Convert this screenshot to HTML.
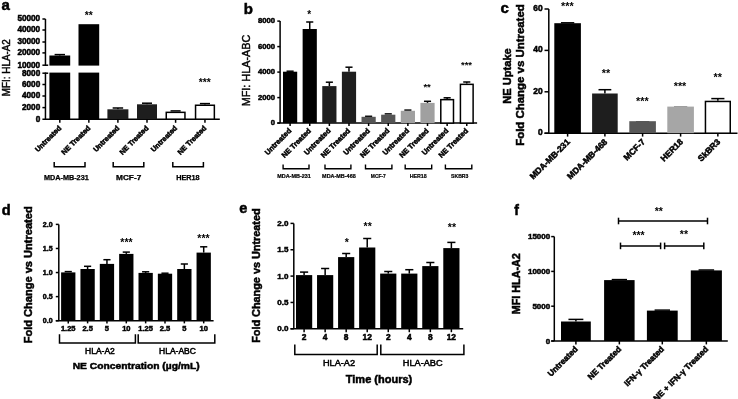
<!DOCTYPE html>
<html><head><meta charset="utf-8"><style>
html,body{margin:0;padding:0;background:#fff;}
body{width:738px;height:399px;overflow:hidden;}
svg{display:block;font-family:"Liberation Sans", sans-serif;will-change:transform;-webkit-font-smoothing:antialiased;}
text{stroke:#000;stroke-width:0.5px;paint-order:stroke;}
</style></head><body>
<svg width="738" height="399" viewBox="0 0 738 399" font-family='"Liberation Sans", sans-serif'>
<rect x="0" y="0" width="738" height="399" fill="#fff"/>
<text x="1.60" y="9.80" font-size="15" text-anchor="start" font-weight="bold">a</text>
<text x="9.80" y="67.65" font-size="10.8" text-anchor="middle" font-weight="normal" textLength="57" lengthAdjust="spacingAndGlyphs" transform="rotate(-90 9.80 67.65)" style="stroke-width:0.45px">MFI: HLA-A2</text>
<line x1="45.45" y1="19.00" x2="45.45" y2="65.90" stroke="#000" stroke-width="1.5"/>
<line x1="42.40" y1="65.20" x2="48.20" y2="65.20" stroke="#000" stroke-width="1.5"/>
<line x1="45.45" y1="72.50" x2="45.45" y2="119.20" stroke="#000" stroke-width="1.5"/>
<line x1="42.40" y1="73.20" x2="48.20" y2="73.20" stroke="#000" stroke-width="1.5"/>
<line x1="42.40" y1="19.00" x2="45.45" y2="19.00" stroke="#000" stroke-width="1.5"/>
<line x1="42.40" y1="30.00" x2="45.45" y2="30.00" stroke="#000" stroke-width="1.5"/>
<line x1="42.40" y1="42.00" x2="45.45" y2="42.00" stroke="#000" stroke-width="1.5"/>
<line x1="42.40" y1="52.90" x2="45.45" y2="52.90" stroke="#000" stroke-width="1.5"/>
<line x1="42.40" y1="84.50" x2="45.45" y2="84.50" stroke="#000" stroke-width="1.5"/>
<line x1="42.40" y1="96.00" x2="45.45" y2="96.00" stroke="#000" stroke-width="1.5"/>
<line x1="42.40" y1="107.60" x2="45.45" y2="107.60" stroke="#000" stroke-width="1.5"/>
<text x="40.20" y="21.30" font-size="8.2" text-anchor="end" font-weight="bold">50000</text>
<text x="40.20" y="32.30" font-size="8.2" text-anchor="end" font-weight="bold">40000</text>
<text x="40.20" y="44.30" font-size="8.2" text-anchor="end" font-weight="bold">30000</text>
<text x="40.20" y="55.20" font-size="8.2" text-anchor="end" font-weight="bold">20000</text>
<text x="40.20" y="67.50" font-size="8.2" text-anchor="end" font-weight="bold">10000</text>
<text x="40.20" y="75.50" font-size="8.2" text-anchor="end" font-weight="bold">8000</text>
<text x="40.20" y="86.80" font-size="8.2" text-anchor="end" font-weight="bold">6000</text>
<text x="40.20" y="98.30" font-size="8.2" text-anchor="end" font-weight="bold">4000</text>
<text x="40.20" y="109.90" font-size="8.2" text-anchor="end" font-weight="bold">2000</text>
<text x="40.20" y="121.50" font-size="8.2" text-anchor="end" font-weight="bold">0</text>
<line x1="42.40" y1="119.20" x2="219.80" y2="119.20" stroke="#000" stroke-width="1.5"/>
<line x1="59.80" y1="55.50" x2="59.80" y2="54.60" stroke="#000" stroke-width="1.5"/>
<line x1="54.60" y1="54.60" x2="65.00" y2="54.60" stroke="#000" stroke-width="1.5"/>
<rect x="49.40" y="55.50" width="20.80" height="10.10" fill="#000"/>
<rect x="49.40" y="72.60" width="20.80" height="46.60" fill="#000"/>
<line x1="59.80" y1="119.20" x2="59.80" y2="122.80" stroke="#000" stroke-width="1.5"/>
<text x="61.80" y="128.60" font-size="7.2" text-anchor="end" font-weight="bold" transform="rotate(-45 61.80 128.60)">Untreated</text>
<rect x="78.50" y="24.20" width="20.70" height="41.40" fill="#000"/>
<rect x="78.50" y="72.60" width="20.70" height="46.60" fill="#000"/>
<line x1="88.85" y1="119.20" x2="88.85" y2="122.80" stroke="#000" stroke-width="1.5"/>
<text x="90.85" y="128.60" font-size="7.2" text-anchor="end" font-weight="bold" transform="rotate(-45 90.85 128.60)">NE Treated</text>
<line x1="117.90" y1="109.30" x2="117.90" y2="108.00" stroke="#000" stroke-width="1.5"/>
<line x1="112.65" y1="108.00" x2="123.15" y2="108.00" stroke="#000" stroke-width="1.5"/>
<rect x="107.40" y="109.30" width="21.00" height="9.90" fill="#1e1e1e"/>
<line x1="117.90" y1="119.20" x2="117.90" y2="122.80" stroke="#000" stroke-width="1.5"/>
<text x="119.90" y="128.60" font-size="7.2" text-anchor="end" font-weight="bold" transform="rotate(-45 119.90 128.60)">Untreated</text>
<line x1="147.00" y1="104.30" x2="147.00" y2="103.20" stroke="#000" stroke-width="1.5"/>
<line x1="142.00" y1="103.20" x2="152.00" y2="103.20" stroke="#000" stroke-width="1.5"/>
<rect x="137.00" y="104.30" width="20.00" height="14.90" fill="#1e1e1e"/>
<line x1="147.00" y1="119.20" x2="147.00" y2="122.80" stroke="#000" stroke-width="1.5"/>
<text x="149.00" y="128.60" font-size="7.2" text-anchor="end" font-weight="bold" transform="rotate(-45 149.00 128.60)">NE Treated</text>
<line x1="170.55" y1="110.90" x2="180.65" y2="110.90" stroke="#000" stroke-width="1.5"/>
<rect x="166.25" y="112.35" width="18.70" height="6.85" fill="#fff" stroke="#000" stroke-width="1.5"/>
<line x1="175.60" y1="119.20" x2="175.60" y2="122.80" stroke="#000" stroke-width="1.5"/>
<text x="177.60" y="128.60" font-size="7.2" text-anchor="end" font-weight="bold" transform="rotate(-45 177.60 128.60)">Untreated</text>
<line x1="204.95" y1="104.50" x2="204.95" y2="103.60" stroke="#000" stroke-width="1.5"/>
<line x1="199.88" y1="103.60" x2="210.02" y2="103.60" stroke="#000" stroke-width="1.5"/>
<rect x="195.55" y="105.25" width="18.80" height="13.95" fill="#fff" stroke="#000" stroke-width="1.5"/>
<line x1="204.95" y1="119.20" x2="204.95" y2="122.80" stroke="#000" stroke-width="1.5"/>
<text x="206.95" y="128.60" font-size="7.2" text-anchor="end" font-weight="bold" transform="rotate(-45 206.95 128.60)">NE Treated</text>
<text x="88.65" y="18.97" font-size="10.3" text-anchor="middle" font-weight="bold" style="stroke:none">**</text>
<text x="204.70" y="86.07" font-size="10.3" text-anchor="middle" font-weight="bold" style="stroke:none">***</text>
<polyline points="54.20,161.90 54.20,166.80 85.00,166.80 85.00,161.90" fill="none" stroke="#000" stroke-width="1.5" stroke-linejoin="miter"/>
<text x="66.35" y="179.90" font-size="6.3" text-anchor="middle" font-weight="bold" textLength="44.8" lengthAdjust="spacingAndGlyphs" style="stroke-width:0.25px">MDA-MB-231</text>
<polyline points="113.20,161.90 113.20,166.80 143.80,166.80 143.80,161.90" fill="none" stroke="#000" stroke-width="1.5" stroke-linejoin="miter"/>
<text x="128.65" y="179.90" font-size="6.3" text-anchor="middle" font-weight="bold" textLength="25.2" lengthAdjust="spacingAndGlyphs" style="stroke-width:0.25px">MCF-7</text>
<polyline points="172.80,161.90 172.80,166.80 203.40,166.80 203.40,161.90" fill="none" stroke="#000" stroke-width="1.5" stroke-linejoin="miter"/>
<text x="187.85" y="179.90" font-size="6.3" text-anchor="middle" font-weight="bold" textLength="23.4" lengthAdjust="spacingAndGlyphs" style="stroke-width:0.25px">HER18</text>
<text x="243.80" y="13.70" font-size="15" text-anchor="start" font-weight="bold">b</text>
<text x="250.00" y="70.50" font-size="11.4" text-anchor="middle" font-weight="normal" textLength="71.5" lengthAdjust="spacingAndGlyphs" transform="rotate(-90 250.00 70.50)" style="stroke-width:0.45px">MFI: HLA-ABC</text>
<line x1="280.10" y1="21.10" x2="280.10" y2="123.10" stroke="#000" stroke-width="1.5"/>
<line x1="277.30" y1="123.10" x2="280.10" y2="123.10" stroke="#000" stroke-width="1.5"/>
<text x="275.10" y="125.30" font-size="7.7" text-anchor="end" font-weight="bold">0</text>
<line x1="277.30" y1="97.60" x2="280.10" y2="97.60" stroke="#000" stroke-width="1.5"/>
<text x="275.10" y="99.80" font-size="7.7" text-anchor="end" font-weight="bold">2000</text>
<line x1="277.30" y1="72.10" x2="280.10" y2="72.10" stroke="#000" stroke-width="1.5"/>
<text x="275.10" y="74.30" font-size="7.7" text-anchor="end" font-weight="bold">4000</text>
<line x1="277.30" y1="46.60" x2="280.10" y2="46.60" stroke="#000" stroke-width="1.5"/>
<text x="275.10" y="48.80" font-size="7.7" text-anchor="end" font-weight="bold">6000</text>
<line x1="277.30" y1="21.10" x2="280.10" y2="21.10" stroke="#000" stroke-width="1.5"/>
<text x="275.10" y="23.30" font-size="7.7" text-anchor="end" font-weight="bold">8000</text>
<line x1="277.30" y1="123.10" x2="477.10" y2="123.10" stroke="#000" stroke-width="1.5"/>
<line x1="286.55" y1="71.20" x2="293.65" y2="71.20" stroke="#000" stroke-width="1.5"/>
<rect x="283.00" y="71.70" width="14.20" height="51.40" fill="#000"/>
<line x1="290.10" y1="123.10" x2="290.10" y2="126.00" stroke="#000" stroke-width="1.5"/>
<text x="291.90" y="131.20" font-size="7.35" text-anchor="end" font-weight="bold" transform="rotate(-45 291.90 131.20)">Untreated</text>
<line x1="309.73" y1="29.00" x2="309.73" y2="22.00" stroke="#000" stroke-width="1.5"/>
<line x1="306.18" y1="22.00" x2="313.28" y2="22.00" stroke="#000" stroke-width="1.5"/>
<rect x="302.63" y="29.00" width="14.20" height="94.10" fill="#000"/>
<line x1="309.73" y1="123.10" x2="309.73" y2="126.00" stroke="#000" stroke-width="1.5"/>
<text x="311.53" y="131.20" font-size="7.35" text-anchor="end" font-weight="bold" transform="rotate(-45 311.53 131.20)">NE Treated</text>
<line x1="329.36" y1="86.10" x2="329.36" y2="82.20" stroke="#000" stroke-width="1.5"/>
<line x1="325.81" y1="82.20" x2="332.91" y2="82.20" stroke="#000" stroke-width="1.5"/>
<rect x="322.26" y="86.10" width="14.20" height="37.00" fill="#1e1e1e"/>
<line x1="329.36" y1="123.10" x2="329.36" y2="126.00" stroke="#000" stroke-width="1.5"/>
<text x="331.16" y="131.20" font-size="7.35" text-anchor="end" font-weight="bold" transform="rotate(-45 331.16 131.20)">Untreated</text>
<line x1="348.99" y1="71.70" x2="348.99" y2="67.20" stroke="#000" stroke-width="1.5"/>
<line x1="345.44" y1="67.20" x2="352.54" y2="67.20" stroke="#000" stroke-width="1.5"/>
<rect x="341.89" y="71.70" width="14.20" height="51.40" fill="#1e1e1e"/>
<line x1="348.99" y1="123.10" x2="348.99" y2="126.00" stroke="#000" stroke-width="1.5"/>
<text x="350.79" y="131.20" font-size="7.35" text-anchor="end" font-weight="bold" transform="rotate(-45 350.79 131.20)">NE Treated</text>
<line x1="365.07" y1="116.30" x2="372.17" y2="116.30" stroke="#000" stroke-width="1.5"/>
<rect x="361.52" y="116.80" width="14.20" height="6.30" fill="#555"/>
<line x1="368.62" y1="123.10" x2="368.62" y2="126.00" stroke="#000" stroke-width="1.5"/>
<text x="370.42" y="131.20" font-size="7.35" text-anchor="end" font-weight="bold" transform="rotate(-45 370.42 131.20)">Untreated</text>
<line x1="384.70" y1="113.90" x2="391.80" y2="113.90" stroke="#000" stroke-width="1.5"/>
<rect x="381.15" y="114.70" width="14.20" height="8.40" fill="#555"/>
<line x1="388.25" y1="123.10" x2="388.25" y2="126.00" stroke="#000" stroke-width="1.5"/>
<text x="390.05" y="131.20" font-size="7.35" text-anchor="end" font-weight="bold" transform="rotate(-45 390.05 131.20)">NE Treated</text>
<line x1="404.33" y1="110.10" x2="411.43" y2="110.10" stroke="#000" stroke-width="1.5"/>
<rect x="400.78" y="110.80" width="14.20" height="12.30" fill="#a0a0a0"/>
<line x1="407.88" y1="123.10" x2="407.88" y2="126.00" stroke="#000" stroke-width="1.5"/>
<text x="409.68" y="131.20" font-size="7.35" text-anchor="end" font-weight="bold" transform="rotate(-45 409.68 131.20)">Untreated</text>
<line x1="427.51" y1="102.90" x2="427.51" y2="101.30" stroke="#000" stroke-width="1.5"/>
<line x1="423.96" y1="101.30" x2="431.06" y2="101.30" stroke="#000" stroke-width="1.5"/>
<rect x="420.41" y="102.90" width="14.20" height="20.20" fill="#a0a0a0"/>
<line x1="427.51" y1="123.10" x2="427.51" y2="126.00" stroke="#000" stroke-width="1.5"/>
<text x="429.31" y="131.20" font-size="7.35" text-anchor="end" font-weight="bold" transform="rotate(-45 429.31 131.20)">NE Treated</text>
<line x1="447.14" y1="98.90" x2="447.14" y2="97.80" stroke="#000" stroke-width="1.5"/>
<line x1="443.59" y1="97.80" x2="450.69" y2="97.80" stroke="#000" stroke-width="1.5"/>
<rect x="440.79" y="99.65" width="12.70" height="23.45" fill="#fff" stroke="#000" stroke-width="1.5"/>
<line x1="447.14" y1="123.10" x2="447.14" y2="126.00" stroke="#000" stroke-width="1.5"/>
<text x="448.94" y="131.20" font-size="7.35" text-anchor="end" font-weight="bold" transform="rotate(-45 448.94 131.20)">Untreated</text>
<line x1="466.77" y1="83.60" x2="466.77" y2="82.00" stroke="#000" stroke-width="1.5"/>
<line x1="463.22" y1="82.00" x2="470.32" y2="82.00" stroke="#000" stroke-width="1.5"/>
<rect x="460.42" y="84.35" width="12.70" height="38.75" fill="#fff" stroke="#000" stroke-width="1.5"/>
<line x1="466.77" y1="123.10" x2="466.77" y2="126.00" stroke="#000" stroke-width="1.5"/>
<text x="468.57" y="131.20" font-size="7.35" text-anchor="end" font-weight="bold" transform="rotate(-45 468.57 131.20)">NE Treated</text>
<text x="309.20" y="17.92" font-size="10" text-anchor="middle" font-weight="bold" style="stroke:none">*</text>
<text x="427.10" y="89.97" font-size="9.5" text-anchor="middle" font-weight="bold" style="stroke:none">**</text>
<text x="466.50" y="68.17" font-size="9.5" text-anchor="middle" font-weight="bold" style="stroke:none">***</text>
<polyline points="283.10,164.40 283.10,168.70 309.00,168.70 309.00,164.40" fill="none" stroke="#000" stroke-width="1.4" stroke-linejoin="miter"/>
<text x="294.00" y="178.00" font-size="5.3" text-anchor="middle" font-weight="bold" textLength="33.6" lengthAdjust="spacingAndGlyphs" style="stroke-width:0.2px">MDA-MB-231</text>
<polyline points="325.00,164.40 325.00,168.70 350.90,168.70 350.90,164.40" fill="none" stroke="#000" stroke-width="1.4" stroke-linejoin="miter"/>
<text x="338.90" y="178.00" font-size="5.3" text-anchor="middle" font-weight="bold" textLength="33.6" lengthAdjust="spacingAndGlyphs" style="stroke-width:0.2px">MDA-MB-468</text>
<polyline points="365.50,164.40 365.50,168.70 391.90,168.70 391.90,164.40" fill="none" stroke="#000" stroke-width="1.4" stroke-linejoin="miter"/>
<text x="378.30" y="178.00" font-size="5.3" text-anchor="middle" font-weight="bold" textLength="15.0" lengthAdjust="spacingAndGlyphs" style="stroke-width:0.2px">MCF-7</text>
<polyline points="405.20,164.40 405.20,168.70 431.70,168.70 431.70,164.40" fill="none" stroke="#000" stroke-width="1.4" stroke-linejoin="miter"/>
<text x="418.20" y="178.00" font-size="5.3" text-anchor="middle" font-weight="bold" textLength="17.1" lengthAdjust="spacingAndGlyphs" style="stroke-width:0.2px">HER18</text>
<polyline points="445.40,164.40 445.40,168.70 471.80,168.70 471.80,164.40" fill="none" stroke="#000" stroke-width="1.4" stroke-linejoin="miter"/>
<text x="459.70" y="178.00" font-size="5.3" text-anchor="middle" font-weight="bold" textLength="17.4" lengthAdjust="spacingAndGlyphs" style="stroke-width:0.2px">SKBR3</text>
<text x="500.60" y="12.80" font-size="15" text-anchor="start" font-weight="bold">c</text>
<text x="511.40" y="76.00" font-size="10" text-anchor="middle" font-weight="bold" textLength="55.5" lengthAdjust="spacingAndGlyphs" transform="rotate(-90 511.40 76.00)">NE Uptake</text>
<text x="524.20" y="75.00" font-size="11" text-anchor="middle" font-weight="bold" textLength="141.5" lengthAdjust="spacingAndGlyphs" transform="rotate(-90 524.20 75.00)">Fold Change vs Untreated</text>
<line x1="548.80" y1="9.00" x2="548.80" y2="133.20" stroke="#000" stroke-width="1.5"/>
<line x1="544.50" y1="133.20" x2="548.80" y2="133.20" stroke="#000" stroke-width="1.5"/>
<text x="542.60" y="135.20" font-size="8.4" text-anchor="end" font-weight="bold">0</text>
<line x1="544.50" y1="91.80" x2="548.80" y2="91.80" stroke="#000" stroke-width="1.5"/>
<text x="542.60" y="93.80" font-size="8.4" text-anchor="end" font-weight="bold">20</text>
<line x1="544.50" y1="50.40" x2="548.80" y2="50.40" stroke="#000" stroke-width="1.5"/>
<text x="542.60" y="52.40" font-size="8.4" text-anchor="end" font-weight="bold">40</text>
<line x1="544.50" y1="9.00" x2="548.80" y2="9.00" stroke="#000" stroke-width="1.5"/>
<text x="542.60" y="11.00" font-size="8.4" text-anchor="end" font-weight="bold">60</text>
<line x1="544.50" y1="133.20" x2="737.50" y2="133.20" stroke="#000" stroke-width="1.5"/>
<line x1="560.95" y1="22.80" x2="574.25" y2="22.80" stroke="#000" stroke-width="1.5"/>
<rect x="554.30" y="23.20" width="26.60" height="110.00" fill="#000"/>
<line x1="567.60" y1="133.20" x2="567.60" y2="136.60" stroke="#000" stroke-width="1.5"/>
<text x="570.60" y="142.50" font-size="8.55" text-anchor="end" font-weight="bold" transform="rotate(-45 570.60 142.50)">MDA-MB-231</text>
<line x1="604.90" y1="93.50" x2="604.90" y2="89.70" stroke="#000" stroke-width="1.5"/>
<line x1="598.50" y1="89.70" x2="611.30" y2="89.70" stroke="#000" stroke-width="1.5"/>
<rect x="592.10" y="93.50" width="25.60" height="39.70" fill="#1e1e1e"/>
<line x1="604.90" y1="133.20" x2="604.90" y2="136.60" stroke="#000" stroke-width="1.5"/>
<text x="607.90" y="142.50" font-size="8.55" text-anchor="end" font-weight="bold" transform="rotate(-45 607.90 142.50)">MDA-MB-468</text>
<line x1="635.95" y1="122.10" x2="649.25" y2="122.10" stroke="#000" stroke-width="1.5"/>
<rect x="629.30" y="121.20" width="26.60" height="12.00" fill="#575757"/>
<line x1="642.60" y1="133.20" x2="642.60" y2="136.60" stroke="#000" stroke-width="1.5"/>
<text x="645.60" y="142.50" font-size="8.55" text-anchor="end" font-weight="bold" transform="rotate(-45 645.60 142.50)">MCF-7</text>
<line x1="673.95" y1="107.35" x2="687.25" y2="107.35" stroke="#000" stroke-width="1.5"/>
<rect x="667.30" y="106.60" width="26.60" height="26.60" fill="#a6a6a6"/>
<line x1="680.60" y1="133.20" x2="680.60" y2="136.60" stroke="#000" stroke-width="1.5"/>
<text x="683.60" y="142.50" font-size="8.55" text-anchor="end" font-weight="bold" transform="rotate(-45 683.60 142.50)">HER18</text>
<line x1="717.85" y1="100.70" x2="717.85" y2="98.60" stroke="#000" stroke-width="1.5"/>
<line x1="711.28" y1="98.60" x2="724.42" y2="98.60" stroke="#000" stroke-width="1.5"/>
<rect x="705.45" y="101.45" width="24.80" height="31.75" fill="#fff" stroke="#000" stroke-width="1.5"/>
<line x1="717.85" y1="133.20" x2="717.85" y2="136.60" stroke="#000" stroke-width="1.5"/>
<text x="720.85" y="142.50" font-size="8.55" text-anchor="end" font-weight="bold" transform="rotate(-45 720.85 142.50)">SkBR3</text>
<text x="567.40" y="10.47" font-size="10.8" text-anchor="middle" font-weight="bold" style="stroke:none">***</text>
<text x="606.00" y="77.12" font-size="10.8" text-anchor="middle" font-weight="bold" style="stroke:none">**</text>
<text x="642.30" y="105.42" font-size="10.8" text-anchor="middle" font-weight="bold" style="stroke:none">***</text>
<text x="680.00" y="90.12" font-size="10.8" text-anchor="middle" font-weight="bold" style="stroke:none">***</text>
<text x="717.70" y="81.12" font-size="10.8" text-anchor="middle" font-weight="bold" style="stroke:none">**</text>
<text x="1.80" y="214.90" font-size="14.6" text-anchor="start" font-weight="bold">d</text>
<text x="32.20" y="274.80" font-size="10.3" text-anchor="middle" font-weight="bold" textLength="137" lengthAdjust="spacingAndGlyphs" transform="rotate(-90 32.20 274.80)">Fold Change vs Untreated</text>
<line x1="58.80" y1="224.40" x2="58.80" y2="320.70" stroke="#000" stroke-width="1.5"/>
<line x1="55.80" y1="320.70" x2="58.80" y2="320.70" stroke="#000" stroke-width="1.5"/>
<text x="52.60" y="323.10" font-size="7.0" text-anchor="end" font-weight="bold">0.0</text>
<line x1="55.80" y1="296.62" x2="58.80" y2="296.62" stroke="#000" stroke-width="1.5"/>
<text x="52.60" y="299.02" font-size="7.0" text-anchor="end" font-weight="bold">0.5</text>
<line x1="55.80" y1="272.55" x2="58.80" y2="272.55" stroke="#000" stroke-width="1.5"/>
<text x="52.60" y="274.95" font-size="7.0" text-anchor="end" font-weight="bold">1.0</text>
<line x1="55.80" y1="248.47" x2="58.80" y2="248.47" stroke="#000" stroke-width="1.5"/>
<text x="52.60" y="250.88" font-size="7.0" text-anchor="end" font-weight="bold">1.5</text>
<line x1="55.80" y1="224.40" x2="58.80" y2="224.40" stroke="#000" stroke-width="1.5"/>
<text x="52.60" y="226.80" font-size="7.0" text-anchor="end" font-weight="bold">2.0</text>
<line x1="55.80" y1="320.70" x2="213.60" y2="320.70" stroke="#000" stroke-width="1.5"/>
<line x1="64.67" y1="271.60" x2="71.83" y2="271.60" stroke="#000" stroke-width="1.5"/>
<rect x="61.10" y="272.40" width="14.30" height="48.30" fill="#000"/>
<line x1="68.25" y1="320.70" x2="68.25" y2="323.40" stroke="#000" stroke-width="1.5"/>
<text x="68.25" y="330.70" font-size="7.5" text-anchor="middle" font-weight="bold">1.25</text>
<line x1="87.60" y1="269.00" x2="87.60" y2="266.30" stroke="#000" stroke-width="1.5"/>
<line x1="84.02" y1="266.30" x2="91.17" y2="266.30" stroke="#000" stroke-width="1.5"/>
<rect x="80.45" y="269.00" width="14.30" height="51.70" fill="#000"/>
<line x1="87.60" y1="320.70" x2="87.60" y2="323.40" stroke="#000" stroke-width="1.5"/>
<text x="87.60" y="330.70" font-size="7.5" text-anchor="middle" font-weight="bold">2.5</text>
<line x1="106.95" y1="263.90" x2="106.95" y2="259.70" stroke="#000" stroke-width="1.5"/>
<line x1="103.38" y1="259.70" x2="110.53" y2="259.70" stroke="#000" stroke-width="1.5"/>
<rect x="99.80" y="263.90" width="14.30" height="56.80" fill="#000"/>
<line x1="106.95" y1="320.70" x2="106.95" y2="323.40" stroke="#000" stroke-width="1.5"/>
<text x="106.95" y="330.70" font-size="7.5" text-anchor="middle" font-weight="bold">5</text>
<line x1="126.30" y1="253.90" x2="126.30" y2="252.10" stroke="#000" stroke-width="1.5"/>
<line x1="122.73" y1="252.10" x2="129.88" y2="252.10" stroke="#000" stroke-width="1.5"/>
<rect x="119.15" y="253.90" width="14.30" height="66.80" fill="#000"/>
<line x1="126.30" y1="320.70" x2="126.30" y2="323.40" stroke="#000" stroke-width="1.5"/>
<text x="126.30" y="330.70" font-size="7.5" text-anchor="middle" font-weight="bold">10</text>
<line x1="145.65" y1="272.90" x2="145.65" y2="271.80" stroke="#000" stroke-width="1.5"/>
<line x1="142.07" y1="271.80" x2="149.23" y2="271.80" stroke="#000" stroke-width="1.5"/>
<rect x="138.50" y="272.90" width="14.30" height="47.80" fill="#000"/>
<line x1="145.65" y1="320.70" x2="145.65" y2="323.40" stroke="#000" stroke-width="1.5"/>
<text x="145.65" y="330.70" font-size="7.5" text-anchor="middle" font-weight="bold">1.25</text>
<line x1="161.43" y1="273.20" x2="168.57" y2="273.20" stroke="#000" stroke-width="1.5"/>
<rect x="157.85" y="273.70" width="14.30" height="47.00" fill="#000"/>
<line x1="165.00" y1="320.70" x2="165.00" y2="323.40" stroke="#000" stroke-width="1.5"/>
<text x="165.00" y="330.70" font-size="7.5" text-anchor="middle" font-weight="bold">2.5</text>
<line x1="184.35" y1="269.00" x2="184.35" y2="264.00" stroke="#000" stroke-width="1.5"/>
<line x1="180.78" y1="264.00" x2="187.93" y2="264.00" stroke="#000" stroke-width="1.5"/>
<rect x="177.20" y="269.00" width="14.30" height="51.70" fill="#000"/>
<line x1="184.35" y1="320.70" x2="184.35" y2="323.40" stroke="#000" stroke-width="1.5"/>
<text x="184.35" y="330.70" font-size="7.5" text-anchor="middle" font-weight="bold">5</text>
<line x1="203.70" y1="252.60" x2="203.70" y2="246.80" stroke="#000" stroke-width="1.5"/>
<line x1="200.12" y1="246.80" x2="207.28" y2="246.80" stroke="#000" stroke-width="1.5"/>
<rect x="196.55" y="252.60" width="14.30" height="68.10" fill="#000"/>
<line x1="203.70" y1="320.70" x2="203.70" y2="323.40" stroke="#000" stroke-width="1.5"/>
<text x="203.70" y="330.70" font-size="7.5" text-anchor="middle" font-weight="bold">10</text>
<text x="126.50" y="245.67" font-size="10.5" text-anchor="middle" font-weight="bold" style="stroke:none">***</text>
<text x="203.50" y="241.67" font-size="10.5" text-anchor="middle" font-weight="bold" style="stroke:none">***</text>
<polyline points="59.50,334.20 59.50,343.00 135.40,343.00 135.40,334.20" fill="none" stroke="#000" stroke-width="1.5" stroke-linejoin="miter"/>
<text x="99.90" y="353.50" font-size="8.5" text-anchor="middle" font-weight="normal">HLA-A2</text>
<polyline points="138.20,334.20 138.20,343.00 214.80,343.00 214.80,334.20" fill="none" stroke="#000" stroke-width="1.5" stroke-linejoin="miter"/>
<text x="177.45" y="353.50" font-size="8.5" text-anchor="middle" font-weight="normal">HLA-ABC</text>
<text x="136.20" y="369.00" font-size="9.8" text-anchor="middle" font-weight="bold" textLength="127" lengthAdjust="spacingAndGlyphs">NE Concentration (µg/mL)</text>
<text x="239.30" y="212.90" font-size="14.6" text-anchor="start" font-weight="bold">e</text>
<text x="259.90" y="275.60" font-size="10.5" text-anchor="middle" font-weight="bold" textLength="134.5" lengthAdjust="spacingAndGlyphs" transform="rotate(-90 259.90 275.60)">Fold Change vs Untreated</text>
<line x1="293.80" y1="223.40" x2="293.80" y2="328.80" stroke="#000" stroke-width="1.5"/>
<line x1="290.50" y1="328.80" x2="293.80" y2="328.80" stroke="#000" stroke-width="1.5"/>
<text x="288.40" y="331.40" font-size="8.0" text-anchor="end" font-weight="bold">0.0</text>
<line x1="290.50" y1="302.45" x2="293.80" y2="302.45" stroke="#000" stroke-width="1.5"/>
<text x="288.40" y="305.05" font-size="8.0" text-anchor="end" font-weight="bold">0.5</text>
<line x1="290.50" y1="276.10" x2="293.80" y2="276.10" stroke="#000" stroke-width="1.5"/>
<text x="288.40" y="278.70" font-size="8.0" text-anchor="end" font-weight="bold">1.0</text>
<line x1="290.50" y1="249.75" x2="293.80" y2="249.75" stroke="#000" stroke-width="1.5"/>
<text x="288.40" y="252.35" font-size="8.0" text-anchor="end" font-weight="bold">1.5</text>
<line x1="290.50" y1="223.40" x2="293.80" y2="223.40" stroke="#000" stroke-width="1.5"/>
<text x="288.40" y="226.00" font-size="8.0" text-anchor="end" font-weight="bold">2.0</text>
<line x1="290.50" y1="328.80" x2="463.20" y2="328.80" stroke="#000" stroke-width="1.5"/>
<line x1="304.10" y1="275.10" x2="304.10" y2="272.10" stroke="#000" stroke-width="1.5"/>
<line x1="300.05" y1="272.10" x2="308.15" y2="272.10" stroke="#000" stroke-width="1.5"/>
<rect x="296.00" y="275.10" width="16.20" height="53.70" fill="#000"/>
<line x1="304.10" y1="328.80" x2="304.10" y2="332.20" stroke="#000" stroke-width="1.5"/>
<text x="304.10" y="339.90" font-size="8.4" text-anchor="middle" font-weight="bold">2</text>
<line x1="325.14" y1="275.10" x2="325.14" y2="268.50" stroke="#000" stroke-width="1.5"/>
<line x1="321.09" y1="268.50" x2="329.19" y2="268.50" stroke="#000" stroke-width="1.5"/>
<rect x="317.04" y="275.10" width="16.20" height="53.70" fill="#000"/>
<line x1="325.14" y1="328.80" x2="325.14" y2="332.20" stroke="#000" stroke-width="1.5"/>
<text x="325.14" y="339.90" font-size="8.4" text-anchor="middle" font-weight="bold">4</text>
<line x1="346.18" y1="257.10" x2="346.18" y2="253.50" stroke="#000" stroke-width="1.5"/>
<line x1="342.13" y1="253.50" x2="350.23" y2="253.50" stroke="#000" stroke-width="1.5"/>
<rect x="338.08" y="257.10" width="16.20" height="71.70" fill="#000"/>
<line x1="346.18" y1="328.80" x2="346.18" y2="332.20" stroke="#000" stroke-width="1.5"/>
<text x="346.18" y="339.90" font-size="8.4" text-anchor="middle" font-weight="bold">8</text>
<line x1="367.22" y1="247.50" x2="367.22" y2="238.50" stroke="#000" stroke-width="1.5"/>
<line x1="363.17" y1="238.50" x2="371.27" y2="238.50" stroke="#000" stroke-width="1.5"/>
<rect x="359.12" y="247.50" width="16.20" height="81.30" fill="#000"/>
<line x1="367.22" y1="328.80" x2="367.22" y2="332.20" stroke="#000" stroke-width="1.5"/>
<text x="367.22" y="339.90" font-size="8.4" text-anchor="middle" font-weight="bold">12</text>
<line x1="388.26" y1="273.60" x2="388.26" y2="271.50" stroke="#000" stroke-width="1.5"/>
<line x1="384.21" y1="271.50" x2="392.31" y2="271.50" stroke="#000" stroke-width="1.5"/>
<rect x="380.16" y="273.60" width="16.20" height="55.20" fill="#000"/>
<line x1="388.26" y1="328.80" x2="388.26" y2="332.20" stroke="#000" stroke-width="1.5"/>
<text x="388.26" y="339.90" font-size="8.4" text-anchor="middle" font-weight="bold">2</text>
<line x1="409.30" y1="273.60" x2="409.30" y2="269.70" stroke="#000" stroke-width="1.5"/>
<line x1="405.25" y1="269.70" x2="413.35" y2="269.70" stroke="#000" stroke-width="1.5"/>
<rect x="401.20" y="273.60" width="16.20" height="55.20" fill="#000"/>
<line x1="409.30" y1="328.80" x2="409.30" y2="332.20" stroke="#000" stroke-width="1.5"/>
<text x="409.30" y="339.90" font-size="8.4" text-anchor="middle" font-weight="bold">4</text>
<line x1="430.34" y1="266.10" x2="430.34" y2="262.50" stroke="#000" stroke-width="1.5"/>
<line x1="426.29" y1="262.50" x2="434.39" y2="262.50" stroke="#000" stroke-width="1.5"/>
<rect x="422.24" y="266.10" width="16.20" height="62.70" fill="#000"/>
<line x1="430.34" y1="328.80" x2="430.34" y2="332.20" stroke="#000" stroke-width="1.5"/>
<text x="430.34" y="339.90" font-size="8.4" text-anchor="middle" font-weight="bold">8</text>
<line x1="451.38" y1="248.10" x2="451.38" y2="242.40" stroke="#000" stroke-width="1.5"/>
<line x1="447.33" y1="242.40" x2="455.43" y2="242.40" stroke="#000" stroke-width="1.5"/>
<rect x="443.28" y="248.10" width="16.20" height="80.70" fill="#000"/>
<line x1="451.38" y1="328.80" x2="451.38" y2="332.20" stroke="#000" stroke-width="1.5"/>
<text x="451.38" y="339.90" font-size="8.4" text-anchor="middle" font-weight="bold">12</text>
<text x="346.90" y="246.47" font-size="10.5" text-anchor="middle" font-weight="bold" style="stroke:none">*</text>
<text x="367.70" y="230.47" font-size="10.5" text-anchor="middle" font-weight="bold" style="stroke:none">**</text>
<text x="451.90" y="231.07" font-size="10.5" text-anchor="middle" font-weight="bold" style="stroke:none">**</text>
<polyline points="294.80,344.50 294.80,354.60 377.20,354.60 377.20,344.50" fill="none" stroke="#000" stroke-width="1.5" stroke-linejoin="miter"/>
<text x="339.00" y="366.30" font-size="9.2" text-anchor="middle" font-weight="normal">HLA-A2</text>
<polyline points="380.80,344.50 380.80,354.60 463.90,354.60 463.90,344.50" fill="none" stroke="#000" stroke-width="1.5" stroke-linejoin="miter"/>
<text x="422.70" y="366.30" font-size="9.2" text-anchor="middle" font-weight="normal">HLA-ABC</text>
<text x="379.00" y="383.30" font-size="11" text-anchor="middle" font-weight="bold">Time (hours)</text>
<text x="514.20" y="215.00" font-size="14" text-anchor="start" font-weight="bold">f</text>
<text x="520.40" y="283.70" font-size="10.8" text-anchor="middle" font-weight="bold" transform="rotate(-90 520.40 283.70)">MFI HLA-A2</text>
<line x1="554.30" y1="236.60" x2="554.30" y2="341.00" stroke="#000" stroke-width="1.5"/>
<line x1="551.20" y1="341.00" x2="554.30" y2="341.00" stroke="#000" stroke-width="1.5"/>
<text x="550.20" y="343.60" font-size="8.0" text-anchor="end" font-weight="bold">0</text>
<line x1="551.20" y1="306.20" x2="554.30" y2="306.20" stroke="#000" stroke-width="1.5"/>
<text x="550.20" y="308.80" font-size="8.0" text-anchor="end" font-weight="bold">5000</text>
<line x1="551.20" y1="271.40" x2="554.30" y2="271.40" stroke="#000" stroke-width="1.5"/>
<text x="550.20" y="274.00" font-size="8.0" text-anchor="end" font-weight="bold">10000</text>
<line x1="551.20" y1="236.60" x2="554.30" y2="236.60" stroke="#000" stroke-width="1.5"/>
<text x="550.20" y="239.20" font-size="8.0" text-anchor="end" font-weight="bold">15000</text>
<line x1="551.20" y1="341.00" x2="727.80" y2="341.00" stroke="#000" stroke-width="1.5"/>
<line x1="575.90" y1="321.50" x2="575.90" y2="319.40" stroke="#000" stroke-width="1.5"/>
<line x1="568.45" y1="319.40" x2="583.35" y2="319.40" stroke="#000" stroke-width="1.5"/>
<rect x="561.00" y="321.50" width="29.80" height="19.50" fill="#000"/>
<line x1="575.90" y1="341.00" x2="575.90" y2="344.40" stroke="#000" stroke-width="1.5"/>
<text x="578.30" y="349.70" font-size="8.3" text-anchor="end" font-weight="bold" transform="rotate(-45 578.30 349.70)">Untreated</text>
<line x1="611.73" y1="279.60" x2="626.98" y2="279.60" stroke="#000" stroke-width="1.5"/>
<rect x="604.10" y="280.10" width="30.50" height="60.90" fill="#000"/>
<line x1="619.35" y1="341.00" x2="619.35" y2="344.40" stroke="#000" stroke-width="1.5"/>
<text x="621.75" y="349.70" font-size="8.3" text-anchor="end" font-weight="bold" transform="rotate(-45 621.75 349.70)">NE Treated</text>
<line x1="654.60" y1="310.10" x2="670.00" y2="310.10" stroke="#000" stroke-width="1.5"/>
<rect x="646.90" y="310.60" width="30.80" height="30.40" fill="#000"/>
<line x1="662.30" y1="341.00" x2="662.30" y2="344.40" stroke="#000" stroke-width="1.5"/>
<text x="664.70" y="349.70" font-size="8.3" text-anchor="end" font-weight="bold" transform="rotate(-45 664.70 349.70)">IFN-γ Treated</text>
<line x1="698.57" y1="270.00" x2="714.12" y2="270.00" stroke="#000" stroke-width="1.5"/>
<rect x="690.80" y="270.40" width="31.10" height="70.60" fill="#000"/>
<line x1="706.35" y1="341.00" x2="706.35" y2="344.40" stroke="#000" stroke-width="1.5"/>
<text x="708.75" y="349.70" font-size="8.3" text-anchor="end" font-weight="bold" transform="rotate(-45 708.75 349.70)">NE + IFN-γ Treated</text>
<line x1="618.50" y1="221.00" x2="707.50" y2="221.00" stroke="#000" stroke-width="1.5"/>
<line x1="618.50" y1="217.70" x2="618.50" y2="224.30" stroke="#000" stroke-width="1.5"/>
<line x1="707.50" y1="217.70" x2="707.50" y2="224.30" stroke="#000" stroke-width="1.5"/>
<line x1="620.50" y1="245.90" x2="660.60" y2="245.90" stroke="#000" stroke-width="1.5"/>
<line x1="620.50" y1="242.60" x2="620.50" y2="249.20" stroke="#000" stroke-width="1.5"/>
<line x1="660.60" y1="242.60" x2="660.60" y2="249.20" stroke="#000" stroke-width="1.5"/>
<line x1="664.60" y1="245.90" x2="703.80" y2="245.90" stroke="#000" stroke-width="1.5"/>
<line x1="664.60" y1="242.60" x2="664.60" y2="249.20" stroke="#000" stroke-width="1.5"/>
<line x1="703.80" y1="242.60" x2="703.80" y2="249.20" stroke="#000" stroke-width="1.5"/>
<text x="658.80" y="214.57" font-size="10.5" text-anchor="middle" font-weight="bold" style="stroke:none">**</text>
<text x="638.55" y="238.67" font-size="10.5" text-anchor="middle" font-weight="bold" style="stroke:none">***</text>
<text x="683.90" y="237.57" font-size="10.5" text-anchor="middle" font-weight="bold" style="stroke:none">**</text>
</svg>
</body></html>
